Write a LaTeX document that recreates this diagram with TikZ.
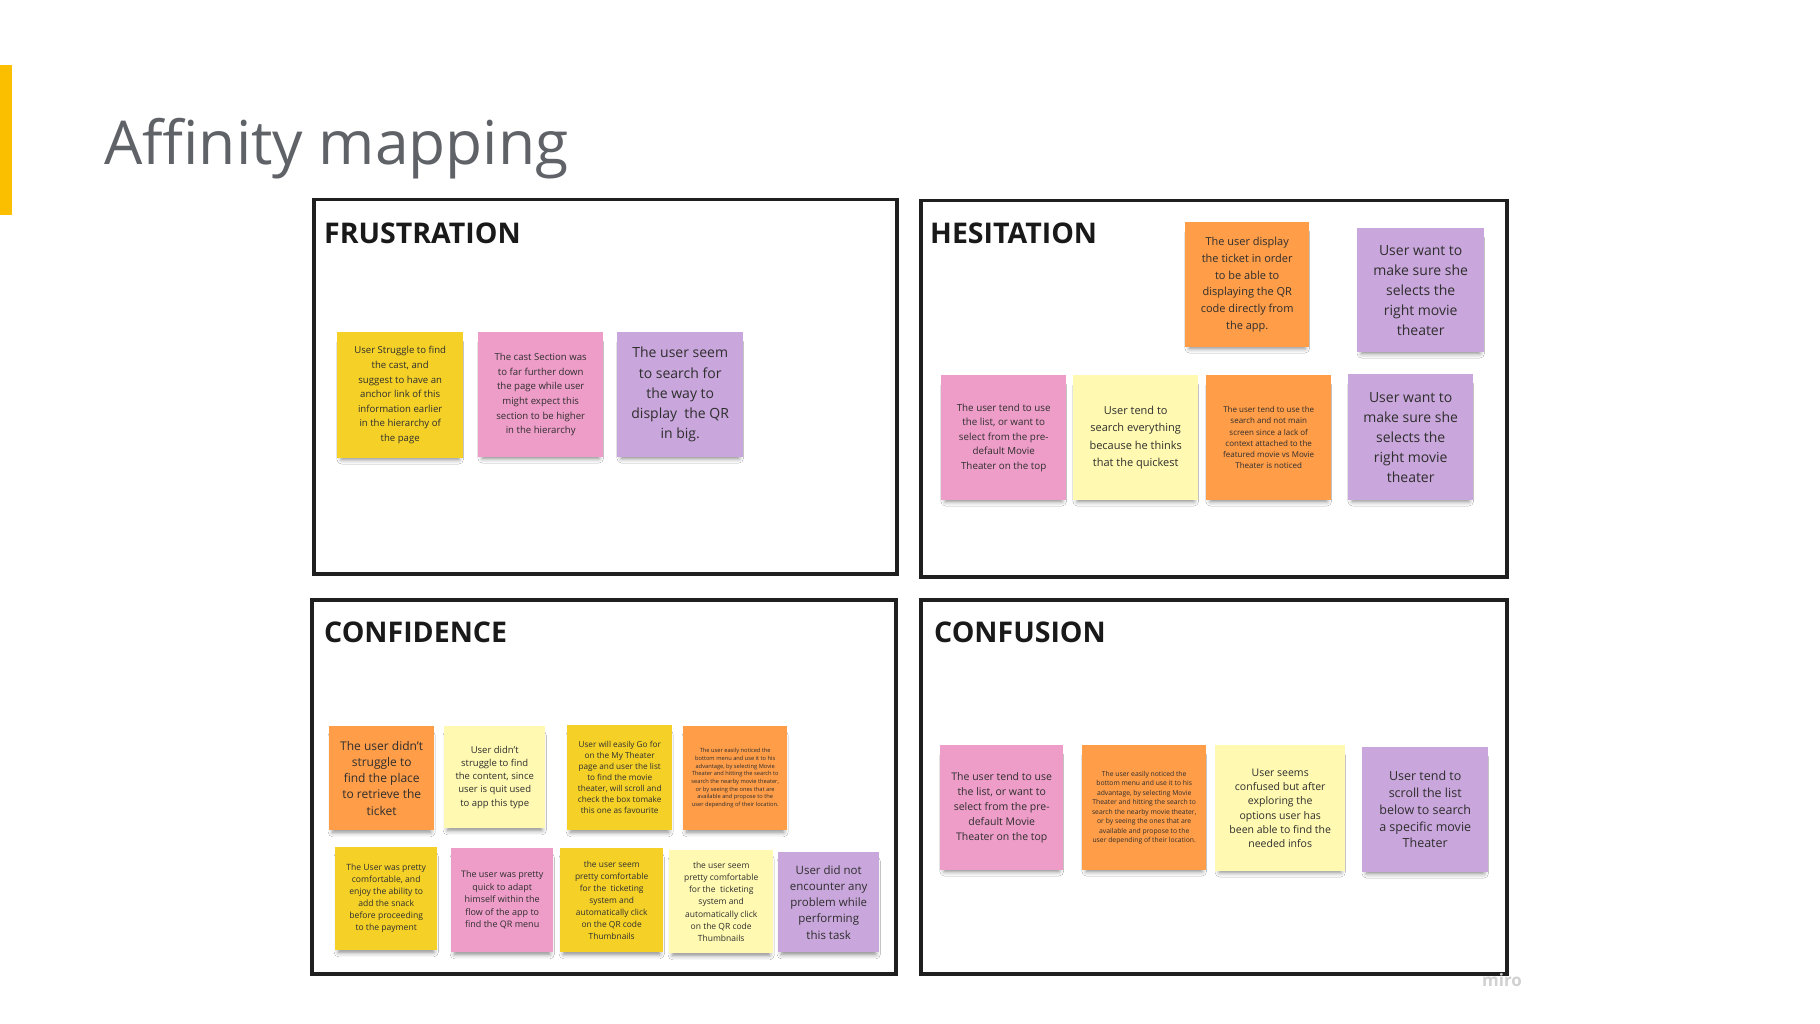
\documentclass[tikz,border=0pt]{standalone}
\usepackage{fontspec}
\setmainfont{Open Sans}
\usetikzlibrary{shadows.blur}
\definecolor{styellow}{HTML}{F5D128}
\definecolor{stlyellow}{HTML}{FFF9B1}
\definecolor{storange}{HTML}{FF9D48}
\definecolor{stpink}{HTML}{EE9DC8}
\definecolor{stpurple}{HTML}{C9A6DB}
\definecolor{barcol}{HTML}{FBBF00}
\definecolor{titlegray}{HTML}{5F6368}
\newcommand\fsz[2]{\fontsize{#1}{#2}\selectfont}
\tikzset{
 sticky/.style={rectangle, anchor=north west, inner sep=0pt, align=center, text=black!82,
   blur shadow={shadow xshift=0pt, shadow yshift=-6pt, shadow scale=0.93, shadow blur radius=5pt, shadow opacity=50}},
 frame/.style={rectangle, anchor=north west, draw=black!88, line width=3.5pt, inner sep=0pt},
 ftitle/.style={anchor=base west, font=\bfseries\fsz{28.5}{34}, text=black!90, inner sep=0pt},
}
\begin{document}
\begin{tikzpicture}[x=1pt,y=-1pt]
\useasboundingbox[fill=white] (0,0) rectangle (1820,1024);
\fill[barcol] (0,65) rectangle (12,215);
\node[anchor=base west, inner sep=0pt, font=\fsz{60.5}{70}, text=titlegray] (title) at (104,165) {Affinity mapping};

% frames
\node[frame, minimum width=583pt, minimum height=374pt] (frus) at (312,198) {};
\node[frame, minimum width=586pt, minimum height=376pt] (hes) at (919,199) {};
\node[frame, minimum width=584pt, minimum height=374pt] (conf) at (310,598) {};
\node[frame, minimum width=586pt, minimum height=374pt] (cfus) at (919,598) {};
\node[ftitle] (frusT) at (324,244) {FRUSTRATION};
\node[ftitle] (hesT) at (930,244) {HESITATION};
\node[ftitle] (confT) at (324,642) {CONFIDENCE};
\node[ftitle] (cfusT) at (934,642) {CONFUSION};

% frustration
\node[sticky, fill=styellow, minimum width=126pt, minimum height=126pt, font=\fsz{9.6}{14.6}] (f1) at (337,332)
 {User Struggle to find\\the cast, and\\suggest to have an\\anchor link of this\\information earlier\\in the hierarchy of\\the page};
\node[sticky, fill=stpink, minimum width=125pt, minimum height=125pt, font=\fsz{9.6}{14.7}] (f2) at (478,332)
 {The cast Section was\\to far further down\\the page while user\\might expect this\\section to be higher\\in the hierarchy};
\node[sticky, fill=stpurple, minimum width=126pt, minimum height=125pt, font=\fsz{14}{20.2}] (f3) at (617,332)
 {The user seem\\to search for\\the way to\\display\ \ the QR\\in big.};

% hesitation
\node[sticky, fill=storange, minimum width=124pt, minimum height=125pt, font=\fsz{11}{16.7}] (h1) at (1185,222)
 {The user display\\the ticket in order\\to be able to\\displaying the QR\\code directly from\\the app.};
\node[sticky, fill=stpurple, minimum width=127pt, minimum height=124pt, font=\fsz{14}{20}] (h2) at (1357,228)
 {User want to\\make sure she\\selects the\\right movie\\theater};
\node[sticky, fill=stpink, minimum width=125pt, minimum height=125pt, font=\fsz{9.8}{14.6}] (h3) at (941,375)
 {The user tend to use\\the list, or want to\\select from the pre-\\default Movie\\Theater on the top};
\node[sticky, fill=stlyellow, minimum width=125pt, minimum height=125pt, font=\fsz{11}{17.2}] (h4) at (1073,375)
 {User tend to\\search everything\\because he thinks\\that the quickest};
\node[sticky, fill=storange, minimum width=125pt, minimum height=125pt, font=\fsz{8}{11.3}] (h5) at (1206,375)
 {The user tend to use the\\search and not main\\screen since a lack of\\context attached to the\\featured movie vs Movie\\Theater is noticed};
\node[sticky, fill=stpurple, minimum width=125pt, minimum height=126pt, font=\fsz{14}{20}] (h6) at (1348,374)
 {User want to\\make sure she\\selects the\\right movie\\theater};

% confidence
\node[sticky, fill=storange, minimum width=105pt, minimum height=104pt, font=\fsz{12}{16.25}] (c1) at (329,726)
 {The user didn't\\struggle to\\find the place\\to retrieve the\\ticket};
\node[sticky, fill=stlyellow, minimum width=101pt, minimum height=102pt, font=\fsz{9.5}{13.3}] (c2) at (444,726)
 {User didn't\\struggle to find\\the content, since\\user is quit used\\to app this type};
\node[sticky, fill=styellow, minimum width=105pt, minimum height=105pt, font=\fsz{8.2}{11}] (c3) at (567,725)
 {User will easily Go for\\on the My Theater\\page and user the list\\to find the movie\\theater, will scroll and\\check the box tomake\\this one as favourite};
\node[sticky, fill=storange, minimum width=104pt, minimum height=104pt, font=\fsz{5.7}{7.7}] (c4) at (683,726)
 {The user easily noticed the\\bottom menu and use it to his\\advantage, by selecting Movie\\Theater and hitting the search to\\search the nearby movie theater,\\or by seeing the ones that are\\available and propose to the\\user depending of their location.};
\node[sticky, fill=styellow, minimum width=102pt, minimum height=103pt, font=\fsz{8.6}{12}] (c5) at (335,847)
 {The User was pretty\\comfortable, and\\enjoy the ability to\\add the snack\\before proceeding\\to the payment};
\node[sticky, fill=stpink, minimum width=102pt, minimum height=104pt, font=\fsz{9}{12.5}] (c6) at (451,848)
 {The user was pretty\\quick to adapt\\himself within the\\flow of the app to\\find the QR menu};
\node[sticky, fill=styellow, minimum width=103pt, minimum height=104pt, font=\fsz{8.4}{11.9}] (c7) at (560,848)
 {the user seem\\pretty comfortable\\for the\ \ ticketing\\system and\\automatically click\\on the QR code\\Thumbnails};
\node[sticky, fill=stlyellow, minimum width=104pt, minimum height=103pt, font=\fsz{8.5}{12.2}] (c8) at (669,850)
 {the user seem\\pretty comfortable\\for the\ \ ticketing\\system and\\automatically click\\on the QR code\\Thumbnails};
\node[sticky, fill=stpurple, minimum width=101pt, minimum height=100pt, font=\fsz{11.5}{16.25}] (c9) at (778,852)
 {User did not\\encounter any\\problem while\\performing\\this task};

% confusion
\node[sticky, fill=stpink, minimum width=123pt, minimum height=125pt, font=\fsz{10.5}{15}] (u1) at (940,745)
 {The user tend to use\\the list, or want to\\select from the pre-\\default Movie\\Theater on the top};
\node[sticky, fill=storange, minimum width=124pt, minimum height=125pt, font=\fsz{6.8}{9.5}] (u2) at (1082,745)
 {The user easily noticed the\\bottom menu and use it to his\\advantage, by selecting Movie\\Theater and hitting the search to\\search the nearby movie theater,\\or by seeing the ones that are\\available and propose to the\\user depending of their location.};
\node[sticky, fill=stlyellow, minimum width=130pt, minimum height=126pt, font=\fsz{10.5}{14.3}] (u3) at (1215,745)
 {User seems\\confused but after\\exploring the\\options user has\\been able to find the\\needed infos};
\node[sticky, fill=stpurple, minimum width=126pt, minimum height=125pt, font=\fsz{12.5}{16.7}] (u4) at (1362,747)
 {User tend to\\scroll the list\\below to search\\a specific movie\\Theater};

\node[anchor=base west, inner sep=0pt, text=black!18, font=\bfseries\fsz{17}{20}] (miro) at (1482,986) {miro};
\end{tikzpicture}
\end{document}
